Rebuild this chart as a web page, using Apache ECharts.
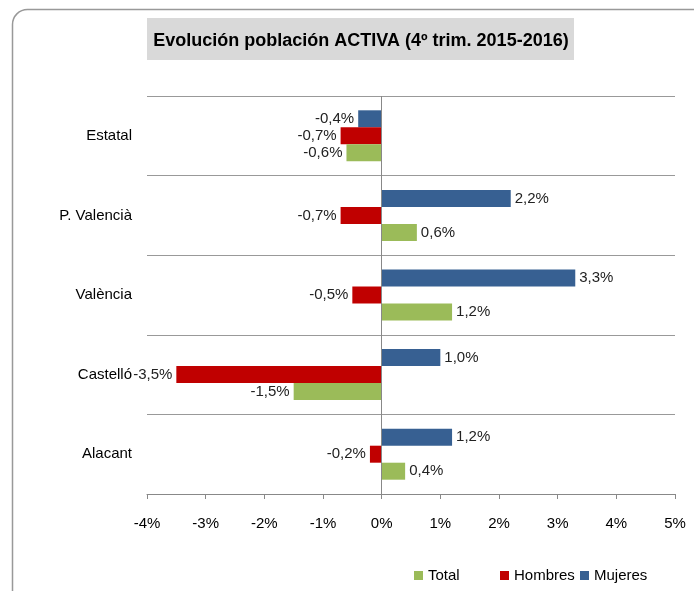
<!DOCTYPE html>
<html>
<head>
<meta charset="utf-8">
<script src="https://cdn.jsdelivr.net/npm/echarts@6/dist/echarts.min.js"></script>
<style>
  html, body { margin: 0; padding: 0; background: #fff; }
  #chart { width: 694px; height: 591px; }
</style>
</head>
<body>
<div id="chart"></div>
<script>
// regions, top to bottom
var categories = ['Estatal', 'P. Valencià', 'València', 'Castelló', 'Alacant'];

// % change, 4th quarter 2015-2016
var total   = [-0.6, 0.6, 1.2, -1.5, 0.4];
var hombres = [-0.7, -0.7, -0.5, -3.5, -0.2];
var mujeres = [-0.4, 2.2, 3.3, 1.0, 1.2];

var xTicks = [-4, 5];

var font = 'Liberation Sans';

function fmt(v) {
    return v.toFixed(1).replace('.', ',') + '%';
}

// put the label on the outer end of each bar
function toData(arr) {
    return arr.map(function (v) {
        return {
            value: v,
            label: { position: v < 0 ? 'left' : 'right' }
        };
    });
}

function barSeries(name, arr, color) {
    return {
        name: name,
        type: 'bar',
        data: toData(arr),
        barWidth: 17,
        barGap: '0%',
        itemStyle: { color: color },
        label: {
            show: true,
            distance: 4,
            fontFamily: font,
            fontSize: 15,
            color: '#222',
            formatter: function (p) { return fmt(p.value); }
        }
    };
}

var series = [
    barSeries('Mujeres', mujeres, '#376092'),
    barSeries('Hombres', hombres, '#c00000'),
    barSeries('Total', total, '#9bbb59')
];
// vertical line at 0%
series[0].markLine = {
    silent: true,
    symbol: 'none',
    label: { show: false },
    lineStyle: { color: '#888', width: 1, type: 'solid' },
    data: [{ xAxis: 0 }]
};

// one legend per entry, so each sits where it does in the original
function legendAt(name, left) {
    return {
        data: [name],
        left: left,
        top: 568,
        padding: 0,
        icon: 'rect',
        itemWidth: 9,
        itemHeight: 9,
        textStyle: { fontFamily: font, fontSize: 15, color: '#000' }
    };
}

var option = {
    animation: false,
    backgroundColor: '#fff',
    graphic: [
        {
            type: 'rect',
            shape: { x: 12.5, y: 9.5, width: 720, height: 620, r: 15 },
            style: { fill: 'none', stroke: '#999', lineWidth: 1.5 },
            z: -10
        },
        {
            type: 'rect',
            shape: { x: 147, y: 18, width: 427, height: 42 },
            style: { fill: '#d9d9d9' },
            z: -5
        }
    ],
    title: {
        text: 'Evolución población ACTIVA (4º trim. 2015-2016)',
        left: 361,
        top: 32,
        textAlign: 'center',
        padding: 0,
        textStyle: { fontFamily: font, fontSize: 18, fontWeight: 'bold', color: '#000' }
    },
    legend: [
        legendAt('Total', 414),
        legendAt('Hombres', 500),
        legendAt('Mujeres', 580)
    ],
    grid: { left: 147, right: 19, top: 96, bottom: 97, containLabel: false },
    xAxis: {
        type: 'value',
        min: xTicks[0],
        max: xTicks[1],
        interval: 1,
        axisLine: { show: true, lineStyle: { color: '#888' } },
        axisTick: { show: true, length: 5, lineStyle: { color: '#888' } },
        splitLine: { show: false },
        axisLabel: {
            margin: 22,
            fontFamily: font,
            fontSize: 15,
            color: '#000',
            formatter: function (v) { return v + '%'; }
        }
    },
    yAxis: {
        type: 'category',
        data: categories,
        inverse: true,
        axisLine: { show: false },
        axisTick: { show: false },
        splitLine: { show: true, lineStyle: { color: '#999' } },
        axisLabel: {
            margin: 15,
            fontFamily: font,
            fontSize: 15,
            color: '#000'
        }
    },
    series: series
};

echarts.init(document.getElementById('chart')).setOption(option);
</script>
</body>
</html>
